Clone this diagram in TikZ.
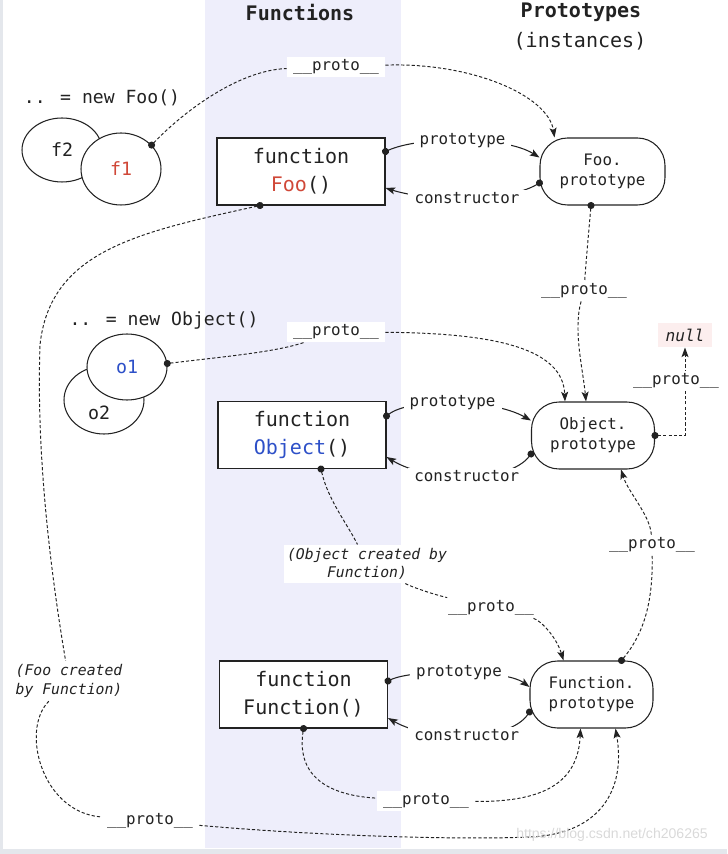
\documentclass[tikz,border=0pt]{standalone}
\usepackage{fontspec}
\setmainfont{DejaVu Sans Mono}
\newfontfamily\wmfont{Liberation Sans}
\usetikzlibrary{arrows.meta,shapes.geometric}
\definecolor{fnBand}{RGB}{238,238,251}
\definecolor{fooRed}{RGB}{208,72,56}
\definecolor{objBlue}{RGB}{45,80,200}
\definecolor{nullPink}{RGB}{252,238,238}
\definecolor{inkGray}{RGB}{34,34,34}
\definecolor{frameGray}{RGB}{228,231,236}
\newcommand{\protoname}{\_\_proto\_\_}
\begin{document}
\begin{tikzpicture}[x=0.02cm, y=-0.02cm,
    every node/.style={text=inkGray},
    fnbox/.style={draw=inkGray, fill=white, line width=0.6pt, minimum width=3.36cm, minimum height=1.34cm,
        inner sep=0pt, align=center, font=\fontsize{11.4}{16}\selectfont},
    protobox/.style={draw=inkGray, fill=white, line width=0.6pt, rounded corners=0.55cm, minimum width=2.46cm,
        minimum height=1.34cm, inner sep=0pt, align=center, font=\fontsize{9}{11.4}\selectfont},
    inst/.style={draw=inkGray, fill=white, ellipse, line width=0.6pt, inner sep=0pt, font=\fontsize{10.4}{12}\selectfont},
    lbl/.style={fill=white, inner xsep=3.5pt, inner ysep=1.5pt, font=\fontsize{9}{10}\selectfont},
    note/.style={fill=white, inner sep=2pt, align=center, font=\itshape\fontsize{8.4}{10.4}\selectfont},
    head/.style={font=\bfseries\fontsize{11.4}{13}\selectfont},
    sline/.style={line width=0.6pt, draw=inkGray},
    pline/.style={line width=0.55pt, draw=inkGray, dash pattern=on 1.8pt off 1.2pt},
    dotarr/.style={{Circle[length=4pt]}-{Stealth[length=5.5pt,width=4pt,inset=1.2pt]}, shorten <=-2pt},
    dotonly/.style={{Circle[length=4pt]}-, shorten <=-2pt},
    arronly/.style={-{Stealth[length=5.5pt,width=4pt,inset=1.2pt]}},
  ]
  \useasboundingbox (0,0) rectangle (727,854);
  % page frame and the Functions band
  \fill[frameGray] (0,849) rectangle (727,854);
  \fill[frameGray] (0,0) rectangle (2.5,854);
  \fill[fnBand] (205,0) rectangle (401,848);

  \node[head] (hfun) at (300,13) {Functions};
  \node[head] (hproto) at (581,12) {Prototypes};
  \node[font=\fontsize{11.4}{13}\selectfont] (hinst) at (580,41) {(instances)};

  % instances
  \node[font=\fontsize{10.3}{12}\selectfont] (newfoo) at (102,98) {.. = new Foo()};
  \node[inst, minimum width=1.6cm, minimum height=1.28cm] (f2) at (62,150) {f2};
  \node[inst, minimum width=1.6cm, minimum height=1.44cm] (f1) at (121,169) {\textcolor{fooRed}{f1}};
  \node[font=\fontsize{10.3}{12}\selectfont] (newobj) at (164,321) {.. = new Object()};
  \node[inst, minimum width=1.6cm, minimum height=1.36cm] (o2) at (104,400) {};
  \node[font=\fontsize{10.4}{12}\selectfont] (o2txt) at (99,413) {o2};
  \node[inst, minimum width=1.6cm, minimum height=1.32cm] (o1) at (127,367) {\textcolor{objBlue}{o1}};

  % functions and prototypes
  \node[fnbox] (foo) at (301,171.5) {function\\\textcolor{fooRed}{Foo}()};
  \node[fnbox] (obj) at (302,435) {function\\\textcolor{objBlue}{Object}()};
  \node[fnbox] (fn) at (303.5,694.5) {function\\Function()};
  \node[protobox, minimum width=2.5cm] (fooproto) at (602.5,171.5) {Foo.\\prototype};
  \node[protobox] (objproto) at (593,435.5) {Object.\\prototype};
  \node[protobox] (fnproto) at (591.5,694.5) {Function.\\prototype};
  \node[fill=nullPink, inner xsep=4.2pt, minimum height=0.44cm, font=\itshape\fontsize{9.2}{11}\selectfont] (null) at (685,335) {null};

  % __proto__ labels
  \node[lbl] (p1) at (336,67) {\protoname};
  \node[lbl] (p2) at (336,332) {\protoname};
  \node[lbl] (p3) at (584,291) {\protoname};
  \node[note] (objnote) at (367,564) {(Object created by\\Function)};
  \node[lbl] (p5) at (491,608) {\protoname};
  \node[lbl] (p6) at (652,545) {\protoname};
  \node[lbl] (p7) at (426,801) {\protoname};
  \node[note] (foonote) at (69,681) {(Foo created\\by Function)};
  \node[lbl] (p8) at (150,821) {\protoname};

  % prototype / constructor
  \draw[sline, dotarr] ([yshift=0.4cm]foo.east) .. controls (420,136) and (505,136) ..
    node[lbl, midway] (fooptl) {prototype} ([yshift=0.28cm]fooproto.west);
  \draw[sline, dotarr] ([yshift=-0.23cm]fooproto.west) .. controls (507,202) and (430,202) ..
    node[lbl, midway] (fooctl) {constructor} ([yshift=-0.33cm]foo.east);
  \draw[sline, dotarr] ([yshift=0.38cm]obj.east) .. controls (410,398) and (491,398) ..
    node[lbl, midway] (objptl) {prototype} ([yshift=0.3cm]objproto.west);
  \draw[sline, dotarr] ([yshift=-0.37cm]objproto.west) .. controls (509,483) and (430,483) ..
    node[lbl, midway] (objctl) {constructor} ([yshift=-0.44cm]obj.east);
  \draw[sline, dotarr] ([yshift=0.27cm]fn.east) .. controls (413,669) and (505,669) ..
    node[lbl, midway] (fnptl) {prototype} ([yshift=0.15cm]fnproto.west);
  \draw[sline, dotarr] ([yshift=-0.35cm]fnproto.west) .. controls (509,742) and (430,742) ..
    node[lbl, midway] (fnctl) {constructor} ([yshift=-0.47cm]fn.east);

  % __proto__ chains
  \draw[pline, dotonly] (f1.38) .. controls (185,110) and (240,70) .. (p1);
  \draw[pline, arronly] (p1) .. controls (470,62) and (548,95) .. ([xshift=-0.96cm]fooproto.north);
  \draw[pline, dotonly] ([xshift=-0.23cm]fooproto.south) .. controls (588,240) and (586,262) .. (p3);
  \draw[pline, arronly] (p3) .. controls (573,330) and (583,370) .. ([xshift=-0.14cm]objproto.north);
  \draw[pline, dotonly] (o1.5) .. controls (230,356) and (275,352) .. (p2);
  \draw[pline, arronly] (p2) .. controls (500,333) and (563,350) .. ([xshift=-0.56cm]objproto.north);
  \draw[pline, dotarr] (objproto.east) -| node[lbl, pos=0.81, xshift=-0.18cm] (p4) {\protoname} (null.south);
  \draw[pline, dotonly] ([xshift=0.38cm]obj.south) .. controls (328,500) and (348,525) .. (objnote);
  \draw[pline] (objnote) .. controls (412,587) and (432,594) .. (p5);
  \draw[pline, arronly] (p5) .. controls (540,620) and (556,636) .. ([xshift=-0.56cm]fnproto.north);
  \draw[pline, dotonly] ([xshift=0.6cm]fnproto.north) .. controls (645,632) and (653,600) .. (p6);
  \draw[pline, arronly] (p6) .. controls (650,515) and (628,492) .. ([xshift=0.56cm]objproto.south);
  \draw[pline, dotonly] (fn.south) .. controls (297,772) and (322,795) .. (p7);
  \draw[pline, arronly] (p7) .. controls (540,802) and (578,785) .. ([xshift=-0.22cm]fnproto.south);
  \draw[pline, dotonly] ([xshift=-0.82cm]foo.south) .. controls (140,232) and (50,250) .. (40,345)
    .. controls (36,460) and (52,580) .. (foonote);
  \draw[pline] (foonote) .. controls (20,730) and (42,812) .. (p8);
  \draw[pline, arronly] (p8) .. controls (320,836) and (460,840) .. (530,837)
    .. controls (600,834) and (626,790) .. ([xshift=0.48cm]fnproto.south);

  \node[font=\wmfont\fontsize{8}{9}\selectfont, text=gray!30] (wm) at (612,835) {https://blog.csdn.net/ch206265};
\end{tikzpicture}
\end{document}
